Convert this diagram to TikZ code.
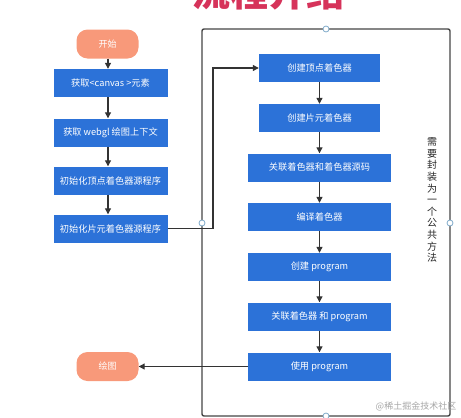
\documentclass[tikz,border=0pt]{standalone}
\usepackage{fontspec}
\newfontfamily\cjk{Noto Sans CJK SC}
\usetikzlibrary{arrows.meta}
\definecolor{boxblue}{HTML}{2C72D8}
\definecolor{termorange}{HTML}{F8997A}
\definecolor{linegray}{HTML}{333333}
\definecolor{framegray}{HTML}{454545}
\definecolor{dotblue}{HTML}{7EA9C9}
\definecolor{titlered}{HTML}{D6335A}
\begin{document}
\begin{tikzpicture}[x=1pt,y=-1pt,
  blk/.style={fill=boxblue, text=white, font=\cjk\fontsize{9.2}{10}\selectfont, minimum height=28pt, inner sep=0pt},
  term/.style={fill=termorange, text=white, rounded corners=11pt, minimum width=62pt, minimum height=29pt, inner sep=0pt, font=\cjk\fontsize{9}{10}\selectfont},
  arr/.style={draw=linegray, line width=1.1pt, -{Triangle[length=6pt,width=6pt]}},
  dot/.style={circle, draw=dotblue, fill=white, line width=0.8pt, minimum size=6pt, inner sep=0pt}]
\useasboundingbox (0,0) rectangle (461,418);
% title (cut off at the top)
\begin{scope}
\clip (0,0) rectangle (461,9);
\node[anchor=south, text=titlered, font=\cjk\bfseries\fontsize{38}{40}\selectfont, inner sep=0pt] (title) at (268,10.5) {流程介绍};
\end{scope}
% frame
\draw[draw=framegray, line width=1.4pt, rounded corners=2pt] (202,29) rectangle (450,416);
% left column
\node[term] (start) at (107.5,44) {开始};
\node[blk, minimum width=114pt] (l1) at (110.5,83) {获取<canvas >元素};
\node[blk, minimum width=114pt] (l2) at (110.5,132.5) {获取 webgl 绘图上下文};
\node[blk, minimum width=114pt] (l3) at (110.5,180.5) {初始化顶点着色器源程序};
\node[blk, minimum width=114pt] (l4) at (110.5,228.5) {初始化片元着色器源程序};
\node[term] (draw) at (107.5,366.5) {绘图};
% right column
\node[blk, minimum width=121pt] (r1) at (319.5,68) {创建顶点着色器};
\node[blk, minimum width=121pt] (r2) at (319.5,118) {创建片元着色器};
\node[blk, minimum width=143pt] (r3) at (319.5,167.5) {关联着色器和着色器源码};
\node[blk, minimum width=143pt] (r4) at (319.5,217) {编译着色器};
\node[blk, minimum width=143pt] (r5) at (319.5,267) {创建 program};
\node[blk, minimum width=143pt] (r6) at (319.5,316.5) {关联着色器 和 program};
\node[blk, minimum width=143pt] (r7) at (319.5,366.5) {使用 program};
% vertical note
\node[align=center, text=black!85, font=\cjk\fontsize{10}{11.6}\selectfont, inner sep=0pt] (note) at (432,200) {需\\要\\封\\装\\为\\一\\个\\公\\共\\方\\法};
% arrows left
\coordinate (a0) at (108,0);
\draw[arr] (start.south -| a0) -- (l1.north -| a0);
\draw[arr] (l1.south -| a0) -- (l2.north -| a0);
\draw[arr] (l2.south -| a0) -- (l3.north -| a0);
\draw[arr] (l3.south -| a0) -- (l4.north -| a0);
% arrows right
\draw[arr] (r1) -- (r2);
\draw[arr] (r2) -- (r3);
\draw[arr] (r3) -- (r4);
\draw[arr] (r4) -- (r5);
\draw[arr] (r5) -- (r6);
\draw[arr] (r6) -- (r7);
% connectors
\coordinate (bend) at (213,0);
\draw[arr] (l4.east) -- (l4.east -| bend) -- (r1.west -| bend) -- (r1.west);
\draw[arr] (r7.west) -- (draw.east);
% frame dots
\node[dot] (dt) at (326,29) {};
\node[dot] (dl) at (202,223) {};
\node[dot] (dr) at (450,223) {};
\node[dot] (db) at (326,416) {};
% watermark
\node[text=black!35, font=\cjk\fontsize{9}{10}\selectfont, inner sep=0pt] (wm) at (416,406) {@稀土掘金技术社区};
\end{tikzpicture}
\end{document}
